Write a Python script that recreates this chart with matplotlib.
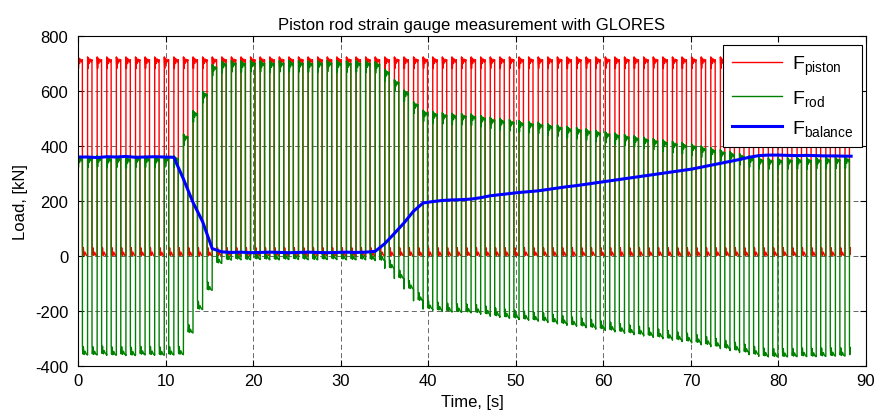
import numpy as np
import matplotlib
matplotlib.use("Agg")
import matplotlib.pyplot as plt

plt.rcParams['font.family'] = ['Liberation Sans', 'DejaVu Sans']
plt.rcParams['mathtext.fontset'] = 'custom'
plt.rcParams['mathtext.rm'] = 'Liberation Sans'
plt.rcParams['mathtext.it'] = 'Liberation Sans'
plt.rcParams['axes.unicode_minus'] = False

# ---- data ----
title = "Piston rod strain gauge measurement with GLORES"
x_label = "Time, [s]"
y_label = "Load, [kN]"
x_ticks = [0, 10, 20, 30, 40, 50, 60, 70, 80, 90]
y_ticks = [-400, -200, 0, 200, 400, 600, 800]

cycle_period = 1.095          # s, one loading cycle
t_end = 88.3                  # s, end of record
piston_high = 712             # kN, piston force while loaded
piston_low = 0                # kN, piston force while unloaded

# F_balance at the start of each cycle (kN)
balance_per_cycle = [
    360, 360, 358, 361, 360, 362, 359, 360, 361, 360,
    359, 280, 195, 125, 27, 15, 13, 14, 12, 13,
    14, 13, 12, 13, 14, 13, 12, 13, 14, 13,
    14, 17, 45, 82, 120, 163, 193, 198, 202, 204,
    205, 207, 212, 219, 223, 227, 231, 234, 237, 242,
    247, 252, 256, 261, 266, 271, 276, 281, 286, 291,
    296, 301, 306, 311, 316, 323, 330, 337, 344, 351,
    359, 365, 367, 367, 366, 365, 366, 365, 364, 364,
    363,
]

# shape of one piston cycle: phase within cycle, loaded?, ripple (kN)
cycle_phase = [0.0, 0.005, 0.05, 0.10, 0.18, 0.28, 0.38, 0.46,
               0.465, 0.50, 0.56, 0.64, 0.74, 0.86, 0.995]
cycle_loaded = [0, 1, 1, 1, 1, 1, 1, 1,
                0, 0, 0, 0, 0, 0, 0]
cycle_ripple = [0, 12, -30, 8, -12, 4, -6, 2,
                38, 4, 30, 2, 14, 3, 0]

# ---- build the series ----
t_list, piston_list, rod_list = [], [], []
for k, bal in enumerate(balance_per_cycle):
    for ph, ld, rp in zip(cycle_phase, cycle_loaded, cycle_ripple):
        t = (k + ph) * cycle_period
        if t > t_end:
            break
        p = (piston_high if ld else piston_low) + rp
        t_list.append(t)
        piston_list.append(p)
        rod_list.append(p - bal)
t_arr = np.array(t_list)
piston = np.array(piston_list)
rod = np.array(rod_list)

bal_t = [k * cycle_period for k in range(len(balance_per_cycle))] + [t_end]
bal_v = balance_per_cycle + [balance_per_cycle[-1]]

# ---- plot ----
fig = plt.figure(figsize=(8.8, 4.14), dpi=100)
ax = fig.add_axes([0.0886, 0.1135, 0.8955, 0.7971])

ax.plot(t_arr, piston, color='#ff0000', lw=1.0, label='F$_{\\mathrm{piston}}$')
ax.plot(t_arr, rod, color='#008000', lw=1.0, label='F$_{\\mathrm{rod}}$')
ax.plot(bal_t, bal_v, color='#0000ff', lw=2.2, label='F$_{\\mathrm{balance}}$')

ax.set_xlim(0, 90)
ax.set_ylim(-400, 800)
ax.set_xticks(x_ticks)
ax.set_yticks(y_ticks)
ax.tick_params(direction='in', top=True, right=True, labelsize=12, length=4, width=0.8)
ax.tick_params(axis='y', pad=7)
ax.tick_params(axis='x', pad=5)
ax.grid(True, color='#222222', linestyle=(0, (6, 4)), linewidth=0.6, alpha=0.8)
for s in ax.spines.values():
    s.set_linewidth(0.8)

ax.set_title(title, fontsize=12, pad=5)
ax.set_xlabel(x_label, fontsize=12, labelpad=4)
ax.set_ylabel(y_label, fontsize=12, labelpad=5)

leg = ax.legend(loc='upper right', bbox_to_anchor=(0.995, 0.973), borderaxespad=0,
                fontsize=14, handlelength=2.6, labelspacing=0.55, borderpad=0.45,
                handletextpad=0.5, fancybox=False, framealpha=1, edgecolor='black')
leg.get_frame().set_linewidth(0.8)

fig.savefig('out.png', dpi=100)
